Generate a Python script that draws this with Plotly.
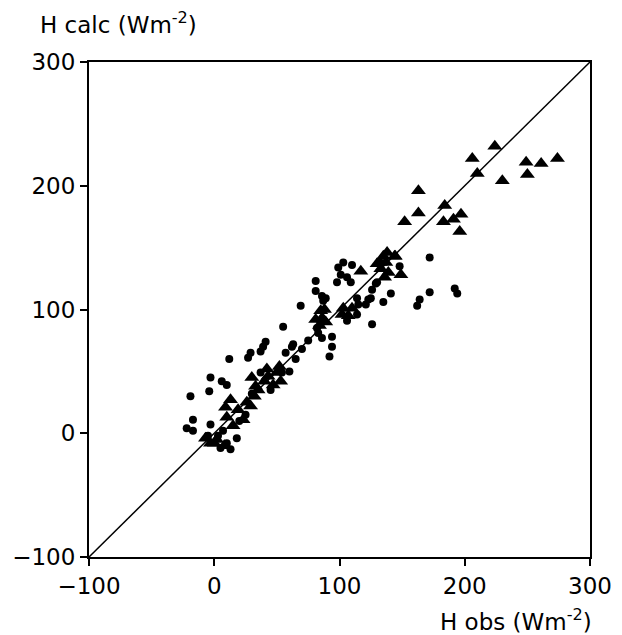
import plotly.graph_objects as go

# Triangles (one data set)
tri_x = [206, 224, 210, 230, 249, 250, 261, 274,
         163, 163, 152, 184, 183, 191, 197, 196,
         135, 130, 137, 144, 136, 149, 133, 139, 117, 138, 144.5, 132.5,
         103, 110, 102, 107, 88, 86, 89, 81, 84, 85, 87,
         52, 50, 47, 53, 42, 43, 30, 33, 32, 29, 35, 40,
         13, 9, 10, 19, 23, 15, 26,
         -7, -3, 2, 8, 0]
tri_y = [222, 232, 210, 204, 219, 209, 218, 222,
         196, 178, 171, 184, 171, 173, 177, 163,
         143, 137, 138, 143, 126, 128, 133, 130, 131, 146, 143, 138,
         101, 101, 96, 95, 100, 93, 90, 92, 87, 99, 92,
         54, 49, 39, 42, 52, 46, 45, 38, 30, 22, 35, 42,
         27, 21, 13, 19, 11, 6, 25,
         -4, -8, -5, -10, -8]

# Dots (other data set)
dot_x = [172, 192, 194, 172, 164, 162, 141, 135, 126, 129, 125, 126, 148,
         103, 110, 99, 101, 98, 106, 109, 123, 121, 114, 115, 130, 106, 114,
         81, 81, 86, 87, 89, 69, 55, 82, 83, 86, 94, 92, 94, 62, 63, 75,
         41, 39, 37, 29, 27, 12, 57, 37, 54,
         -3, 6, 10, -4, -19,
         -17, -22, -17, -3,
         13, 5, 18, 10, -5, 7, 3, 20, 25, 30, 45, 60, 65, 70]
dot_y = [142, 117, 113, 114, 108, 103, 113, 106, 116, 121, 109, 88, 135,
         138, 136, 134, 128, 122, 126, 122, 108, 104, 109, 104, 122, 91, 96,
         123, 115, 111, 107, 109, 103, 86, 85, 81, 77, 70, 62, 78, 70, 72, 75,
         74, 70, 66, 65, 61, 60, 65, 49, 49,
         45, 42, 39, 34, 30,
         11, 4, 2, 7,
         -13, -12, -4, -8, -2, 2, -2, 10, 15, 32, 35, 50, 60, 68]

line_x = [-100, 300]
line_y = [-100, 300]

tick_vals = [-100, 0, 100, 200, 300]
tick_text = ["\u2212100", "0", "100", "200", "300"]

FONT = "DejaVu Sans, Liberation Sans, sans-serif"

fig = go.Figure()
fig.add_trace(go.Scatter(x=line_x, y=line_y, mode="lines",
                         line=dict(color="black", width=1.5), hoverinfo="skip"))
fig.add_trace(go.Scatter(x=dot_x, y=dot_y, mode="markers",
                         marker=dict(symbol="circle", size=8, color="black")))
fig.add_trace(go.Scatter(x=tri_x, y=tri_y, mode="markers",
                         marker=dict(symbol="triangle-up", size=13, color="black")))

axis_common = dict(range=[-100, 300], tickvals=tick_vals, ticktext=tick_text,
                   showgrid=False, zeroline=False, showline=True, linecolor="black",
                   linewidth=2, mirror=True, ticks="outside", ticklen=7, tickwidth=2,
                   tickcolor="black", automargin=False,
                   tickfont=dict(family=FONT, size=23, color="black"))

fig.update_xaxes(**axis_common)
fig.update_yaxes(**axis_common)

# page body has an 8px margin; keep the plot area where the reference has it
W, H = 614, 627
L, T = 81, 54
PW, PH = 501, 495

fig.update_layout(
    width=W, height=H,
    margin=dict(l=L, r=W - L - PW, t=T, b=H - T - PH),
    plot_bgcolor="white", paper_bgcolor="white",
    showlegend=False,
    annotations=[
        dict(text="H calc (Wm<sup>-2</sup>)", xref="paper", yref="paper",
             x=(38 - 89) / PW, y=1 + (62 - 23) / PH, xanchor="left", yanchor="middle",
             showarrow=False,
             font=dict(family=FONT, size=23, color="black")),
        dict(text="H obs (Wm<sup>-2</sup>)", xref="paper", yref="paper",
             x=(594 - 89) / PW, y=-(620 - 557) / PH, xanchor="right", yanchor="middle",
             showarrow=False,
             font=dict(family=FONT, size=23, color="black")),
    ],
)

fig.write_html("out.html")
